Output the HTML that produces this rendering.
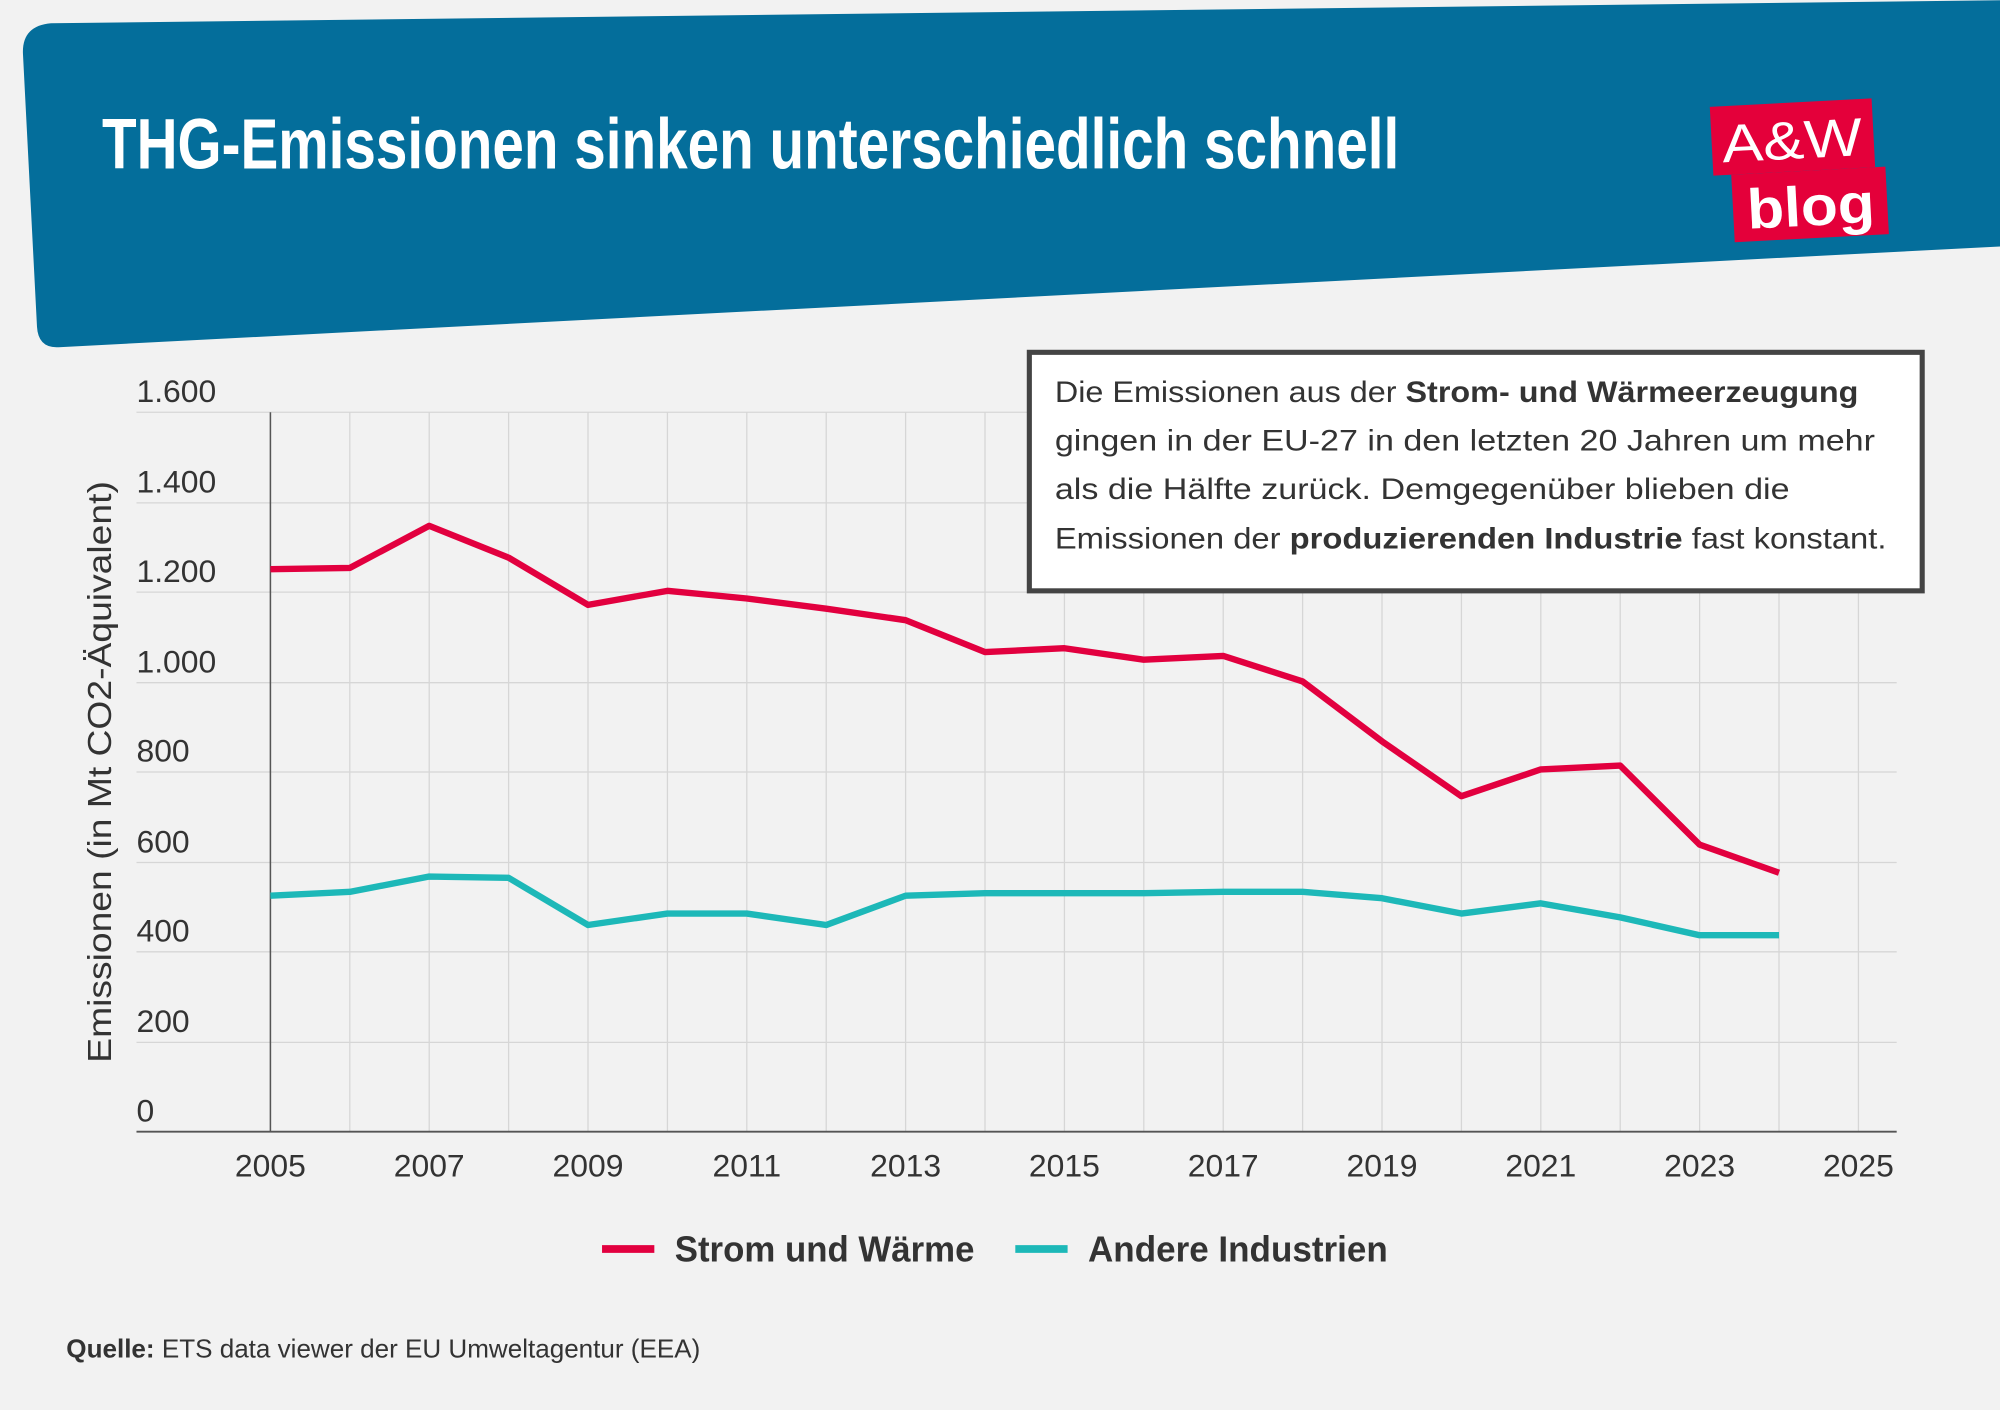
<!DOCTYPE html>
<html><head><meta charset="utf-8"><style>
html,body{margin:0;padding:0;background:#f2f2f2;}
svg{display:block;font-family:"Liberation Sans",sans-serif;}
</style></head><body>
<svg width="2000" height="1410" viewBox="0 0 1568 1105" xmlns="http://www.w3.org/2000/svg">
<rect width="1568" height="1105" fill="#f2f2f2"/>
<path d="M40,18 L1568,0 L1568,193 L46,272 Q30,273 29,256 L18,42 Q17,20 40,18 Z" fill="#046e9b"/>
<text x="80" y="132" fill="#fff" font-size="56" font-weight="bold" textLength="1017" lengthAdjust="spacingAndGlyphs" font-family="'Liberation Sans Narrow','Liberation Sans',sans-serif">THG-Emissionen sinken unterschiedlich schnell</text>
<g transform="rotate(-3 1410 130)">
<rect x="1343" y="80" width="127" height="54" fill="#e4003a"/>
<rect x="1357" y="134" width="121" height="53" fill="#e4003a"/>
<text x="1406" y="124" fill="#fff" font-size="42" text-anchor="middle" textLength="110" lengthAdjust="spacingAndGlyphs">A&amp;W</text>
<text x="1418" y="177" fill="#fff" font-size="44" font-weight="bold" text-anchor="middle" textLength="100" lengthAdjust="spacingAndGlyphs">blog</text>
</g>
<g stroke="#d6d6d6" stroke-width="1">
<line x1="107" x2="1487" y1="323" y2="323"/><line x1="107" x2="1487" y1="394" y2="394"/>
<line x1="107" x2="1487" y1="464" y2="464"/><line x1="107" x2="1487" y1="535" y2="535"/>
<line x1="107" x2="1487" y1="605" y2="605"/><line x1="107" x2="1487" y1="676" y2="676"/>
<line x1="107" x2="1487" y1="746" y2="746"/><line x1="107" x2="1487" y1="817" y2="817"/>
<line x1="274.25" x2="274.25" y1="323" y2="887"/><line x1="336.5" x2="336.5" y1="323" y2="887"/>
<line x1="398.75" x2="398.75" y1="323" y2="887"/><line x1="461" x2="461" y1="323" y2="887"/>
<line x1="523.25" x2="523.25" y1="323" y2="887"/><line x1="585.5" x2="585.5" y1="323" y2="887"/>
<line x1="647.75" x2="647.75" y1="323" y2="887"/><line x1="710" x2="710" y1="323" y2="887"/>
<line x1="772.25" x2="772.25" y1="323" y2="887"/><line x1="834.5" x2="834.5" y1="323" y2="887"/>
<line x1="896.75" x2="896.75" y1="323" y2="887"/><line x1="959" x2="959" y1="323" y2="887"/>
<line x1="1021.25" x2="1021.25" y1="323" y2="887"/><line x1="1083.5" x2="1083.5" y1="323" y2="887"/>
<line x1="1145.75" x2="1145.75" y1="323" y2="887"/><line x1="1208" x2="1208" y1="323" y2="887"/>
<line x1="1270.25" x2="1270.25" y1="323" y2="887"/><line x1="1332.5" x2="1332.5" y1="323" y2="887"/>
<line x1="1394.75" x2="1394.75" y1="323" y2="887"/><line x1="1457" x2="1457" y1="323" y2="887"/>
</g>
<line x1="212" x2="212" y1="323" y2="887" stroke="#555" stroke-width="1.2"/>
<line x1="107" x2="1487" y1="887" y2="887" stroke="#555" stroke-width="1.5"/>
<g fill="#333" font-size="25">
<text x="107" y="315">1.600</text><text x="107" y="386">1.400</text><text x="107" y="456">1.200</text>
<text x="107" y="527">1.000</text><text x="107" y="597">800</text><text x="107" y="668">600</text>
<text x="107" y="738">400</text><text x="107" y="809">200</text><text x="107" y="879">0</text>
</g>
<g fill="#333" font-size="25" text-anchor="middle">
<text x="212" y="922">2005</text><text x="336.5" y="922">2007</text><text x="461" y="922">2009</text>
<text x="585.5" y="922">2011</text><text x="710" y="922">2013</text><text x="834.5" y="922">2015</text>
<text x="959" y="922">2017</text><text x="1083.5" y="922">2019</text><text x="1208" y="922">2021</text>
<text x="1332.5" y="922">2023</text><text x="1457" y="922">2025</text>
</g>
<text transform="translate(87,605) rotate(-90)" fill="#333" font-size="26" text-anchor="middle" textLength="456" lengthAdjust="spacingAndGlyphs">Emissionen (in Mt CO2-Äquivalent)</text>
<polyline fill="none" stroke="#e2003f" stroke-width="5" stroke-linejoin="round" points="212,446 274.25,445 336.5,412 398.75,437 461,474 523.25,463 585.5,469 647.75,477 710,486 772.25,511 834.5,508 896.75,517 959,514 1021.25,534 1083.5,581 1145.75,624 1208,603 1270.25,600 1332.5,662 1394.75,684"/>
<polyline fill="none" stroke="#1db8b8" stroke-width="5" stroke-linejoin="round" points="212,702 274.25,699 336.5,687 398.75,688 461,725 523.25,716 585.5,716 647.75,725 710,702 772.25,700 834.5,700 896.75,700 959,699 1021.25,699 1083.5,704 1145.75,716 1208,708 1270.25,719 1332.5,733 1394.75,733"/>
<rect x="807" y="276" width="700" height="187" fill="#fff" stroke="#444" stroke-width="4"/>
<g fill="#333" font-size="23">
<text x="827" y="315" textLength="630" lengthAdjust="spacingAndGlyphs">Die Emissionen aus der <tspan font-weight="bold">Strom- und Wärmeerzeugung</tspan></text>
<text x="827" y="353" textLength="643" lengthAdjust="spacingAndGlyphs">gingen in der EU-27 in den letzten 20 Jahren um mehr</text>
<text x="827" y="391" textLength="576" lengthAdjust="spacingAndGlyphs">als die Hälfte zurück. Demgegenüber blieben die</text>
<text x="827" y="430" textLength="652" lengthAdjust="spacingAndGlyphs">Emissionen der <tspan font-weight="bold">produzierenden Industrie</tspan> fast konstant.</text>
</g>
<line x1="472" x2="513" y1="979" y2="979" stroke="#e2003f" stroke-width="6"/>
<text x="529" y="989" fill="#333" font-size="28" font-weight="bold" textLength="235" lengthAdjust="spacingAndGlyphs">Strom und Wärme</text>
<line x1="796" x2="837" y1="979" y2="979" stroke="#1db8b8" stroke-width="6"/>
<text x="853" y="989" fill="#333" font-size="28" font-weight="bold" textLength="235" lengthAdjust="spacingAndGlyphs">Andere Industrien</text>
<text x="52" y="1064" fill="#333" font-size="20" textLength="497" lengthAdjust="spacingAndGlyphs"><tspan font-weight="bold">Quelle:</tspan> ETS data viewer der EU Umweltagentur (EEA)</text>
</svg>
</body></html>
